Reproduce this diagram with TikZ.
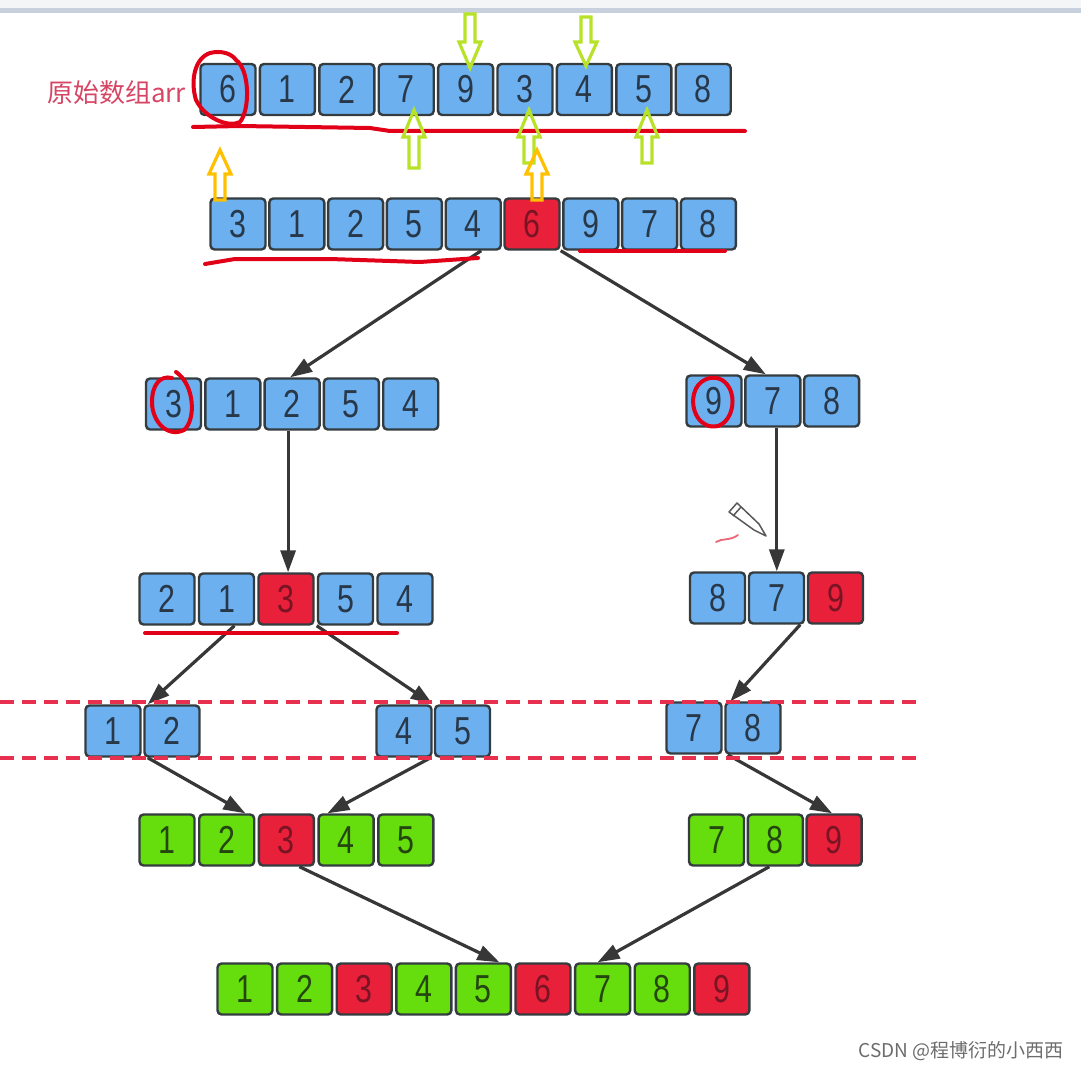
\documentclass[tikz,border=0pt]{standalone}
\usepackage{fontspec}
\usetikzlibrary{arrows.meta,calc}
\newfontfamily\digfont[FakeStretch=0.78]{Liberation Sans}
\newfontfamily\cjkfont{Noto Sans CJK SC}
\definecolor{cellblue}{RGB}{108,176,240}
\definecolor{cellred}{RGB}{232,32,58}
\definecolor{cellgreen}{RGB}{102,221,12}
\definecolor{cellborder}{RGB}{52,60,64}
\definecolor{digblue}{RGB}{40,56,72}
\definecolor{digred}{RGB}{120,20,36}
\definecolor{diggreen}{RGB}{36,70,16}
\definecolor{conncol}{RGB}{55,55,55}
\definecolor{handred}{RGB}{225,0,24}
\definecolor{dashred}{RGB}{230,48,78}
\definecolor{hgreen}{RGB}{184,226,40}
\definecolor{horange}{RGB}{255,192,0}
\definecolor{labpink}{RGB}{214,70,100}
\definecolor{topband}{RGB}{200,208,221}
\definecolor{topgray}{RGB}{244,245,247}
\tikzset{
 cell/.style={draw=cellborder, line width=2.4pt, rounded corners=4pt, minimum width=55pt, minimum height=51pt, inner sep=0pt, font=\digfont\fontsize{39}{39}\selectfont},
 cellB/.style={cell, fill=cellblue, text=digblue},
 cellR/.style={cell, fill=cellred, text=digred},
 cellG/.style={cell, fill=cellgreen, text=diggreen},
 conn/.style={draw=conncol, line width=3.2pt, -{Triangle[length=22pt,width=15pt]}},
 hand/.style={draw=handred, line width=4pt, line cap=round, line join=round},
 cutline/.style={draw=dashred, line width=3.2pt, dash pattern=on 14pt off 8pt},
 hollow/.style={line width=3.2pt, line join=miter},
}
\newcommand\holarrow[5]{% x, tail y, head base y, tip y, colour
 \draw[hollow,#5] ({#1-5},#2) -- ({#1-5},#3) -- ({#1-11},#3) -- (#1,#4) -- ({#1+11},#3) -- ({#1+5},#3) -- ({#1+5},#2) -- cycle;}
\begin{document}
\begin{tikzpicture}[x=1pt,y=-1pt]
\useasboundingbox (0,0) rectangle (1081,1070);
\fill[topgray] (0,0) rectangle (1081,8);
\fill[topband] (0,8) rectangle (1081,13);

% label
\node[anchor=west, text=labpink, inner sep=0pt, font=\cjkfont\fontsize{26}{26}\selectfont] (lab) at (47,93) {原始数组arr};

% row 1
\foreach \d/\s [count=\i] in {6/cellB,1/cellB,2/cellB,7/cellB,9/cellB,3/cellB,4/cellB,5/cellB,8/cellB}
  \node[\s] (ra\i) at ({228+59.4*(\i-1)},89.5) {\d};
% row 2
\foreach \d/\s [count=\i] in {3/cellB,1/cellB,2/cellB,5/cellB,4/cellB,6/cellR,9/cellB,7/cellB,8/cellB}
  \node[\s] (rb\i) at ({238+58.8*(\i-1)},224) {\d};
% row 3
\foreach \d/\s [count=\i] in {3/cellB,1/cellB,2/cellB,5/cellB,4/cellB}
  \node[\s] (rcl\i) at ({173.5+59.3*(\i-1)},404) {\d};
\foreach \d/\s [count=\i] in {9/cellB,7/cellB,8/cellB}
  \node[\s] (rcr\i) at ({714+58.8*(\i-1)},401) {\d};
% row 4
\foreach \d/\s [count=\i] in {2/cellB,1/cellB,3/cellR,5/cellB,4/cellB}
  \node[\s] (rdl\i) at ({167+59.5*(\i-1)},599) {\d};
\foreach \d/\s [count=\i] in {8/cellB,7/cellB,9/cellR}
  \node[\s] (rdr\i) at ({717.5+59*(\i-1)},598) {\d};
% row 5
\foreach \d/\s [count=\i] in {1/cellB,2/cellB}
  \node[\s] (rea\i) at ({113+59*(\i-1)},731) {\d};
\foreach \d/\s [count=\i] in {4/cellB,5/cellB}
  \node[\s] (reb\i) at ({404+58.5*(\i-1)},731) {\d};
\foreach \d/\s [count=\i] in {7/cellB,8/cellB}
  \node[\s] (rec\i) at ({694+59*(\i-1)},728) {\d};
% row 6
\foreach \d/\s [count=\i] in {1/cellG,2/cellG,3/cellR,4/cellG,5/cellG}
  \node[\s] (rfl\i) at ({167+59.7*(\i-1)},840) {\d};
\foreach \d/\s [count=\i] in {7/cellG,8/cellG,9/cellR}
  \node[\s] (rfr\i) at ({716.5+58.8*(\i-1)},840) {\d};
% row 7
\foreach \d/\s [count=\i] in {1/cellG,2/cellG,3/cellR,4/cellG,5/cellG,6/cellR,7/cellG,8/cellG,9/cellR}
  \node[\s] (rg\i) at ({245+59.6*(\i-1)},989) {\d};

% connectors
\draw[conn] ([xshift=8pt]rb5.south) -- ([xshift=-2pt]rcl3.north);
\draw[conn] (rb6.south east) -- ([xshift=-7pt]rcr2.north);
\draw[conn] ([xshift=-4pt]rcl3.south) -- ([xshift=-4pt]rcl3.south |- rdl3.north);
\draw[conn] ([xshift=4pt]rcr2.south) -- ([xshift=4pt]rcr2.south |- rdr2.north);
\draw[conn] ([xshift=8pt]rdl2.south) -- ([xshift=6pt]rea1.north east);
\draw[conn] ([xshift=2pt]rdl3.south east) -- ([xshift=0pt]reb1.north east);
\draw[conn] ([xshift=-5pt]rdr2.south east) -- ([xshift=6pt]rec2.north west);
\draw[conn] ([xshift=6pt]rea1.south east) -- ([xshift=-10pt]rfl2.north east);
\draw[conn] ([xshift=-2pt]reb1.south east) -- ([xshift=10pt]rfl4.north west);
\draw[conn] ([xshift=5pt]rec1.south east) -- ([xshift=-2pt]rfr3.north);
\draw[conn] ([xshift=13pt]rfl3.south) -- ([xshift=16pt]rg5.north);
\draw[conn] ([xshift=-6pt]rfr2.south) -- ([xshift=-5pt]rg7.north);

% dashed cut lines
\draw[cutline] (0,702) -- (920,702);
\draw[cutline] (0,758) -- (920,758);

% hand-drawn red marks
\draw[hand] (236,60) .. controls (250,70) and (250,110) .. (240,122)
  .. controls (228,128) and (205,118) .. (196,100)
  .. controls (190,80) and (195,58) .. (210,53)
  .. controls (222,50) and (232,54) .. (236,60);
\draw[hand] (193,127) -- (240,126) -- (370,128) -- (390,131) -- (745,131);
\draw[hand] (205,264) -- (235,259) -- (330,259) -- (420,262) -- (478,258);
\draw[hand] (580,251) -- (725,251);
\draw[hand] (176,372) .. controls (195,385) and (196,420) .. (184,430)
  .. controls (168,438) and (152,422) .. (152,402)
  .. controls (152,385) and (160,375) .. (172,378);
\draw[hand] (722,380) .. controls (738,390) and (735,420) .. (718,426)
  .. controls (700,430) and (690,410) .. (694,394)
  .. controls (697,380) and (712,374) .. (722,380);
\draw[hand] (145,633) -- (397,633);
\draw[handred!60, line width=1.8pt, line cap=round] (716,542) .. controls (722,538) and (730,541) .. (738,535);

% pencil
\draw[gray!70!black, line width=1.5pt, fill=white, line join=round]
  (729,512) -- (737,503) -- (759,524) -- (766,536) -- (754,530) -- cycle;
\draw[gray!70!black, line width=1.5pt] (733,516) -- (741,507);

% hollow arrows
\holarrow{470}{14}{42}{68}{hgreen}
\holarrow{586}{17}{42}{66}{hgreen}
\holarrow{414}{168}{137}{110}{hgreen}
\holarrow{529}{163}{137}{110}{hgreen}
\holarrow{647}{163}{137}{110}{hgreen}
\holarrow{220}{200}{174}{150}{horange}
\holarrow{537}{200}{174}{150}{horange}

% watermark
\node[text=gray!85!black, inner sep=0pt, font=\cjkfont\fontsize{19}{19}\selectfont] (wm) at (961,1051) {CSDN @程博衍的小西西};
\end{tikzpicture}
\end{document}
